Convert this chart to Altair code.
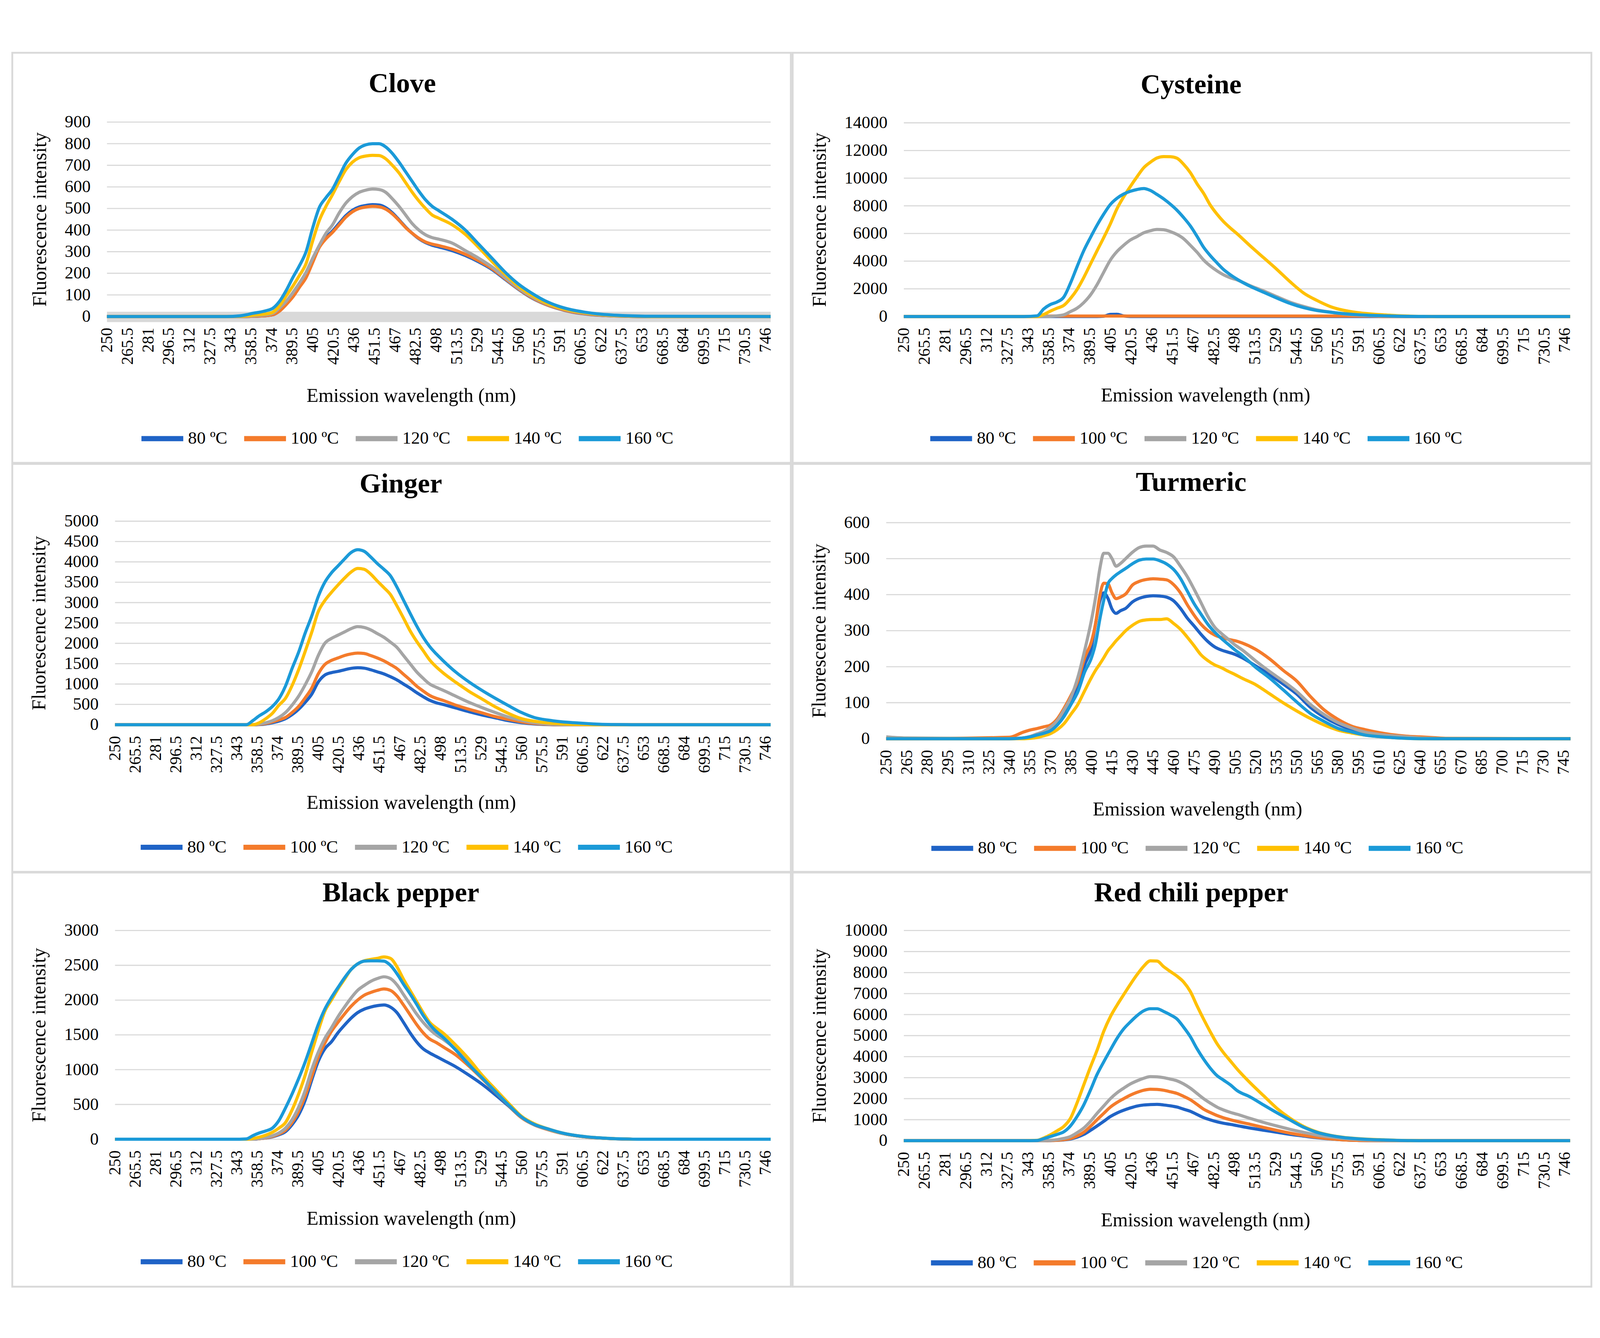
import altair as alt
import pandas as pd

FONT = "Liberation Serif"
SERIES = ["80 ºC", "100 ºC", "120 ºC", "140 ºC", "160 ºC"]
COLORS = ["#1f63c6", "#f47b2b", "#a5a5a5", "#ffc000", "#1b9ad8"]

# wavelength grid (nm) shared by most panels
WL = [250, 340, 350, 355, 360, 365, 370, 375, 380, 385, 390, 395, 400, 405, 410, 415, 420, 425, 430, 435,
      440, 445, 450, 455, 460, 465, 470, 475, 480, 485, 490, 495, 500, 510, 520, 530, 540, 550, 560, 570,
      580, 590, 600, 610, 620, 630, 640, 650, 660, 750]
# finer grid for turmeric
WL_T = [250, 265, 340, 350, 355, 360, 365, 370, 375, 380, 385, 390, 395, 400, 403, 406, 409, 412, 415, 418,
        421, 425, 430, 435, 440, 445, 450, 455, 460, 465, 470, 475, 480, 485, 490, 495, 500, 505, 510, 520,
        530, 540, 550, 560, 570, 580, 590, 600, 610, 620, 630, 640, 650, 660, 750]

# x tick labels
XT_A = [250, 265.5, 281, 296.5, 312, 327.5, 343, 358.5, 374, 389.5, 405, 420.5, 436, 451.5, 467, 482.5, 498,
        513.5, 529, 544.5, 560, 575.5, 591, 606.5, 622, 637.5, 653, 668.5, 684, 699.5, 715, 730.5, 746]
XT_B = [250, 265, 280, 295, 310, 325, 340, 355, 370, 385, 400, 415, 430, 445, 460, 475, 490, 505, 520, 535,
        550, 565, 580, 595, 610, 625, 640, 655, 670, 685, 700, 715, 730, 745]

# y tick labels
Y_CLOVE = [0, 100, 200, 300, 400, 500, 600, 700, 800, 900]
Y_CYS = [0, 2000, 4000, 6000, 8000, 10000, 12000, 14000]
Y_GIN = [0, 500, 1000, 1500, 2000, 2500, 3000, 3500, 4000, 4500, 5000]
Y_TUR = [0, 100, 200, 300, 400, 500, 600]
Y_BP = [0, 500, 1000, 1500, 2000, 2500, 3000]
Y_RC = [0, 1000, 2000, 3000, 4000, 5000, 6000, 7000, 8000, 9000, 10000]

# Clove
CLOVE_80 = [0, 0, 0, 0, 1, 2, 4, 8, 26, 57, 93, 138, 184, 255, 325, 366, 396, 432, 467, 492, 507, 514, 518, 516, 504,
            480, 448, 414, 385, 360, 342, 330, 322, 305, 282, 253, 218, 172, 126, 86, 57, 36, 21, 12, 6, 3, 1, 0, 0, 0]
CLOVE_100 = [0, 0, 0, 0, 1, 2, 4, 8, 25, 55, 90, 135, 180, 250, 320, 360, 390, 425, 460, 485, 500, 507, 510, 508, 497,
             475, 445, 412, 385, 362, 345, 335, 328, 312, 288, 258, 222, 175, 128, 88, 58, 37, 22, 13, 7, 3, 1, 0, 0, 0]
CLOVE_120 = [0, 0, 0, 1, 3, 5, 8, 15, 40, 70, 110, 155, 205, 270, 330, 385, 425, 480, 525, 555, 575, 585, 590, 588, 575,
             545, 510, 470, 430, 400, 378, 365, 358, 340, 305, 270, 230, 180, 132, 92, 62, 40, 25, 15, 9, 4, 2, 1, 0, 0]
CLOVE_140 = [0, 0, 1, 3, 6, 9, 12, 20, 50, 95, 140, 190, 245, 350, 445, 510, 565, 625, 680, 715, 735, 743, 746, 745, 730,
             700, 665, 620, 575, 535, 500, 470, 455, 425, 380, 320, 255, 195, 140, 98, 65, 42, 27, 17, 10, 5, 3, 1, 0, 0]
CLOVE_160 = [0, 0, 3, 8, 15, 20, 27, 38, 70, 120, 180, 235, 300, 410, 505, 550, 590, 650, 710, 750, 780, 795, 800, 800, 785,
             755, 715, 670, 625, 580, 540, 510, 490, 450, 400, 335, 270, 205, 150, 108, 73, 48, 31, 20, 12, 7, 4, 2, 1, 0]
CLOVE_BAND = [-26, 22]

# Cysteine
CYS_80 = [0, 0, 0, 0, 0, 0, 0, 0, 0, 0, 0, 0, 20, 150, 160, 40, 0, 0, 0, 0, 0, 0, 0, 0, 0,
          0, 0, 0, 0, 0, 0, 0, 0, 0, 0, 0, 0, 0, 0, 0, 0, 0, 0, 0, 0, 0, 0, 0, 0, 0]
CYS_100 = [0, 0, 0, 30, 30, 30, 30, 30, 30, 30, 30, 30, 30, 30, 30, 30, 30, 30, 30, 30, 30, 30, 30, 30, 30,
           30, 30, 30, 30, 30, 30, 30, 30, 30, 30, 30, 30, 30, 30, 30, 30, 30, 30, 0, 0, 0, 0, 0, 0, 0]
CYS_120 = [0, 0, 0, 0, 10, 50, 120, 350, 600, 1000, 1550, 2300, 3200, 4080, 4700, 5150, 5530, 5780, 6050, 6200,
           6290, 6270, 6140, 5930, 5620, 5150, 4650, 4080, 3650, 3300, 3010, 2800, 2650, 2220, 1850, 1430, 1030, 730,
           480, 320, 190, 110, 60, 30, 12, 4, 0, 0, 0, 0]
CYS_140 = [0, 0, 0, 150, 390, 600, 800, 1300, 1950, 2810, 3780, 4750, 5700, 6700, 7800, 8650, 9400, 10100, 10750,
           11150, 11460, 11560, 11550, 11440, 11000, 10400, 9600, 8900, 8050, 7400, 6850, 6400, 5990, 5100, 4250,
           3400, 2500, 1700, 1160, 720, 450, 290, 190, 120, 60, 28, 8, 0, 0, 0]
CYS_160 = [0, 0, 50, 550, 870, 1050, 1400, 2400, 3600, 4750, 5700, 6600, 7400, 8100, 8550, 8850, 9050, 9180, 9250,
           9110, 8820, 8500, 8120, 7680, 7150, 6550, 5800, 5000, 4400, 3880, 3390, 3020, 2700, 2180, 1750, 1330, 940,
           640, 430, 310, 210, 135, 85, 50, 24, 10, 4, 0, 0, 0]

# Ginger
GIN_80 = [0, 0, 0, 0, 5, 20, 50, 90, 150, 250, 380, 550, 750, 1050, 1220, 1280, 1310, 1350, 1385, 1400, 1390, 1350,
          1300, 1250, 1180, 1100, 1000, 900, 790, 690, 600, 540, 500, 410, 320, 240, 170, 100, 50, 20, 5, 0, 0, 0, 0,
          0, 0, 0, 0, 0]
GIN_100 = [0, 0, 0, 0, 10, 30, 70, 120, 180, 300, 450, 660, 900, 1250, 1480, 1580, 1640, 1700, 1740, 1760, 1750,
           1700, 1640, 1570, 1480, 1380, 1240, 1100, 950, 830, 720, 650, 600, 480, 380, 290, 200, 130, 70, 30, 10, 0,
           0, 0, 0, 0, 0, 0, 0, 0]
GIN_120 = [0, 0, 0, 0, 20, 50, 100, 180, 300, 480, 700, 980, 1300, 1700, 2000, 2120, 2200, 2280, 2360, 2410, 2390,
           2330, 2240, 2150, 2030, 1900, 1700, 1500, 1300, 1140, 1000, 920, 850, 700, 550, 420, 300, 190, 110, 50, 20,
           5, 0, 0, 0, 0, 0, 0, 0, 0]
GIN_140 = [0, 0, 0, 0, 50, 150, 280, 480, 650, 960, 1350, 1800, 2270, 2780, 3050, 3250, 3430, 3600, 3750, 3840, 3820,
           3700, 3530, 3370, 3200, 2920, 2620, 2310, 2050, 1820, 1590, 1420, 1280, 1040, 820, 630, 440, 280, 150, 85,
           45, 22, 10, 4, 0, 0, 0, 0, 0, 0]
GIN_160 = [0, 0, 0, 100, 220, 320, 450, 640, 950, 1380, 1780, 2250, 2670, 3150, 3500, 3730, 3900, 4070, 4230, 4300,
           4260, 4120, 3960, 3820, 3660, 3380, 3060, 2740, 2430, 2150, 1920, 1740, 1580, 1290, 1050, 840, 650, 470,
           300, 175, 115, 75, 50, 30, 12, 5, 2, 0, 0, 0]

# Turmeric (on WL_T)
TUR_80 = [0, 0, 0, 2, 5, 10, 15, 22, 40, 72, 110, 150, 205, 255, 320, 380, 405, 390, 360, 348, 355, 362, 380, 390,
          395, 397, 396, 393, 383, 362, 335, 313, 290, 270, 255, 246, 240, 234, 225, 202, 178, 152, 124, 87, 60, 40,
          26, 17, 10, 6, 3, 1, 0, 0, 0]
TUR_100 = [0, 0, 4, 18, 24, 28, 33, 38, 55, 85, 120, 160, 225, 270, 320, 395, 432, 430, 405, 389, 393, 402, 427, 437,
           442, 444, 443, 441, 428, 405, 372, 343, 318, 300, 288, 281, 276, 272, 266, 248, 222, 190, 160, 117, 80, 54,
           35, 25, 17, 11, 7, 5, 3, 1, 0]
TUR_120 = [5, 2, 0, 2, 6, 13, 20, 32, 50, 80, 115, 170, 245, 330, 393, 470, 515, 515, 500, 479, 486, 500, 518, 531,
           535, 535, 524, 517, 505, 479, 450, 415, 378, 340, 310, 292, 276, 260, 247, 216, 187, 160, 131, 95, 67, 45,
           30, 18, 12, 8, 5, 2, 1, 0, 0]
TUR_140 = [0, 0, 0, 0, 1, 3, 8, 14, 25, 42, 68, 95, 133, 170, 190, 207, 225, 244, 258, 272, 284, 300, 315, 326, 330,
           331, 331, 333, 320, 304, 282, 258, 233, 217, 205, 197, 187, 178, 168, 150, 125, 100, 77, 56, 38, 24, 16,
           10, 6, 3, 1, 0, 0, 0, 0]
TUR_160 = [0, 0, 0, 2, 5, 10, 15, 22, 38, 62, 95, 130, 185, 225, 265, 330, 385, 430, 445, 455, 463, 473, 486, 496,
           499, 499, 494, 485, 470, 445, 410, 375, 346, 318, 296, 278, 262, 246, 232, 198, 169, 136, 102, 70, 48, 29,
           19, 10, 6, 3, 1, 0, 0, 0, 0]

# Black pepper
BP_80 = [0, 0, 0, 0, 8, 18, 35, 65, 110, 210, 350, 560, 850, 1120, 1300, 1400, 1530, 1640, 1740, 1820, 1870, 1900,
         1920, 1930, 1900, 1820, 1680, 1530, 1400, 1300, 1240, 1190, 1140, 1040, 920, 790, 640, 480, 310, 205, 140,
         88, 53, 30, 17, 8, 3, 0, 0, 0]
BP_100 = [0, 0, 0, 0, 8, 20, 40, 75, 130, 240, 400, 620, 900, 1180, 1380, 1550, 1680, 1800, 1910, 2000, 2070, 2110,
          2140, 2160, 2140, 2060, 1930, 1790, 1650, 1530, 1440, 1390, 1330, 1210, 1050, 870, 680, 490, 310, 205, 140,
          88, 53, 30, 17, 8, 3, 0, 0, 0]
BP_120 = [0, 0, 0, 0, 10, 25, 50, 90, 160, 280, 460, 700, 1000, 1250, 1450, 1600, 1760, 1900, 2030, 2140, 2210, 2270,
          2310, 2335, 2310, 2220, 2080, 1940, 1800, 1680, 1580, 1500, 1440, 1290, 1100, 900, 700, 500, 320, 210, 145,
          90, 55, 32, 18, 8, 3, 0, 0, 0]
BP_140 = [0, 0, 0, 10, 30, 60, 100, 160, 240, 420, 650, 920, 1250, 1560, 1840, 2000, 2160, 2300, 2440, 2520, 2565,
          2585, 2600, 2620, 2600, 2480, 2300, 2140, 1980, 1820, 1680, 1600, 1530, 1350, 1150, 920, 720, 520, 330, 220,
          150, 95, 58, 35, 20, 9, 4, 0, 0, 0]
BP_160 = [0, 0, 5, 50, 90, 120, 160, 270, 450, 650, 870, 1110, 1380, 1650, 1870, 2036, 2180, 2320, 2440, 2520, 2560,
          2565, 2565, 2560, 2500, 2380, 2229, 2090, 1940, 1780, 1650, 1550, 1470, 1280, 1070, 880, 686, 495, 320, 210,
          150, 95, 58, 35, 20, 9, 4, 0, 0, 0]

# Red chili pepper
RC_80 = [0, 0, 0, 0, 8, 20, 40, 80, 170, 300, 490, 700, 920, 1150, 1320, 1450, 1560, 1650, 1700, 1720, 1730, 1700,
         1660, 1600, 1500, 1400, 1250, 1100, 990, 900, 830, 780, 720, 600, 500, 400, 300, 220, 140, 85, 40, 16, 6, 1,
         0, 0, 0, 0, 0, 0]
RC_100 = [0, 0, 0, 0, 8, 20, 50, 100, 220, 400, 680, 1000, 1300, 1600, 1820, 2000, 2170, 2300, 2400, 2450, 2440,
          2400, 2330, 2250, 2110, 1950, 1730, 1500, 1340, 1200, 1090, 1000, 920, 780, 630, 490, 360, 250, 160, 90, 40,
          16, 6, 1, 0, 0, 0, 0, 0, 0]
RC_120 = [0, 0, 0, 0, 20, 50, 110, 200, 380, 600, 920, 1300, 1650, 2000, 2280, 2500, 2700, 2850, 2970, 3050, 3040,
          3000, 2930, 2850, 2700, 2500, 2250, 2000, 1790, 1600, 1460, 1350, 1260, 1060, 870, 700, 540, 400, 270, 180,
          110, 60, 28, 10, 3, 0, 0, 0, 0, 0]
RC_140 = [0, 0, 20, 130, 280, 470, 677, 1060, 1800, 2650, 3500, 4300, 5200, 5900, 6450, 6950, 7440, 7900, 8300, 8560,
          8550, 8280, 8050, 7830, 7550, 7100, 6420, 5780, 5180, 4620, 4180, 3800, 3420, 2750, 2140, 1540, 1060, 680,
          420, 260, 160, 105, 68, 42, 22, 8, 3, 0, 0, 0]
RC_160 = [0, 0, 10, 100, 200, 300, 420, 700, 1150, 1700, 2400, 3150, 3750, 4320, 4870, 5320, 5650, 5950, 6180, 6280,
          6280, 6150, 5990, 5790, 5400, 4950, 4380, 3880, 3450, 3100, 2880, 2660, 2390, 2080, 1700, 1330, 980, 640,
          400, 250, 150, 95, 60, 38, 18, 7, 2, 0, 0, 0]

TITLES = ["Clove", "Cysteine", "Ginger", "Turmeric", "Black pepper", "Red chili pepper"]
X_TITLE = "Emission wavelength (nm)"
Y_TITLE = "Fluorescence intensity"

# ---------------- layout (pixels inside the single drawing area) ----------------
TOTAL_W, TOTAL_H = 4344, 3410
LAYOUT = {
    "Clove": dict(xr=[283, 2092], yr=[744, 214], box=[25, 2147, 25, 1143], title=[1088, 109], xt=[1112, 216], leg=[370, 1013]),
    "Cysteine": dict(xr=[2455, 4271], yr=[744, 216], box=[2152, 4329, 25, 1143], title=[3238, 113], xt=[3277, 215], leg=[2520, 1013]),
    "Ginger": dict(xr=[305, 2092], yr=[1857, 1302], box=[25, 2147, 1146, 2258], title=[1084, 1201], xt=[1112, 213], leg=[368, 2127]),
    "Turmeric": dict(xr=[2407, 4272], yr=[1895, 1306], box=[2152, 4329, 1146, 2258], title=[3238, 1197], xt=[3255, 193], leg=[2523, 2130]),
    "Black pepper": dict(xr=[305, 2092], yr=[2987, 2418], box=[25, 2147, 2260, 3389], title=[1084, 2316], xt=[1112, 217], leg=[368, 3257]),
    "Red chili pepper": dict(xr=[2455, 4271], yr=[2991, 2418], box=[2152, 4329, 2260, 3389], title=[3238, 2316], xt=[3277, 217], leg=[2522, 3260]),
}


def panel(name, wl, ys, yvals, xvals, band=None):
    lay = LAYOUT[name]
    rows = []
    for s, vals in zip(SERIES, ys):
        for x, y in zip(wl, vals):
            rows.append({"wl": x, "v": y, "s": s})
    df = pd.DataFrame(rows)

    xscale = alt.Scale(domain=[250, 750], range=lay["xr"], nice=False, zero=False)
    yscale = alt.Scale(domain=[yvals[0], yvals[-1]], range=lay["yr"], nice=False, zero=False)
    xaxis = alt.Axis(orient="bottom", offset=lay["yr"][0] - TOTAL_H, values=xvals,
                     labelExpr="'' + datum.value", labelAngle=270, labelFont=FONT, labelFontSize=45,
                     labelColor="#000000", labelPadding=30, ticks=False, domain=False, grid=False,
                     labelOverlap=False, labelFlush=False, labelBound=False,
                     title=X_TITLE, titleFont=FONT, titleFontSize=53, titleFontWeight="normal",
                     titleColor="#000000", titleX=lay["xt"][0], titleY=lay["xt"][1],
                     titleBaseline="middle", titleAlign="center")
    yaxis = alt.Axis(orient="left", offset=-lay["xr"][0], values=yvals, format="d", labelFont=FONT,
                     labelFontSize=47, labelColor="#000000", labelPadding=45, domain=False, ticks=False,
                     grid=False, title=Y_TITLE, titleFont=FONT, titleFontSize=53, titleFontWeight="normal",
                     titleColor="#000000", titlePadding=40)
    legend = alt.Legend(orient="none", legendX=lay["leg"][0], legendY=lay["leg"][1],
                        direction="horizontal", columns=5, symbolType="stroke", symbolStrokeWidth=14,
                        symbolSize=12996, labelFont=FONT, labelFontSize=48, labelColor="#000000",
                        columnPadding=18, labelOffset=6)
    color = alt.Color("s:N", scale=alt.Scale(domain=SERIES, range=COLORS), legend=legend, title=None)

    bx = lay["box"]
    frame = alt.Chart(alt.Data(values=[{"k": 1}])).mark_rect(
        fill="#ffffff", fillOpacity=0, stroke="#d9d9d9", strokeWidth=5
    ).encode(x=alt.value(bx[0]), x2=alt.value(bx[1]), y=alt.value(bx[2]), y2=alt.value(bx[3]))

    gdf = pd.DataFrame({"wl": [250] * len(yvals), "wl2": [750] * len(yvals), "v": yvals})
    grid = alt.Chart(gdf).mark_rule(color="#d9d9d9", strokeWidth=3).encode(
        x=alt.X("wl:Q", scale=xscale, axis=xaxis), x2="wl2:Q",
        y=alt.Y("v:Q", scale=yscale, axis=yaxis),
    )

    layers = [frame, grid]
    if band is not None:
        bdf = pd.DataFrame({"wl": [250], "wl2": [750], "v": [band[0]], "v2": [band[1]]})
        layers.append(
            alt.Chart(bdf).mark_rect(color="#d9d9d9").encode(
                x=alt.X("wl:Q", scale=xscale, axis=xaxis), x2="wl2:Q",
                y=alt.Y("v:Q", scale=yscale, axis=yaxis), y2="v2:Q"
            )
        )
    for s in SERIES:
        layers.append(
            alt.Chart(df).transform_filter(alt.datum.s == s).mark_line(
                strokeWidth=8.5, interpolate="monotone"
            ).encode(
                x=alt.X("wl:Q", scale=xscale, axis=xaxis),
                y=alt.Y("v:Q", scale=yscale, axis=yaxis),
                color=color,
            )
        )
    title = alt.Chart(alt.Data(values=[{"t": name}])).mark_text(
        font=FONT, fontSize=75, fontWeight="bold", color="#000000", baseline="middle", align="center"
    ).encode(text="t:N", x=alt.value(lay["title"][0]), y=alt.value(lay["title"][1]))
    layers.append(title)
    return alt.layer(*layers)


clove = panel(TITLES[0], WL, [CLOVE_80, CLOVE_100, CLOVE_120, CLOVE_140, CLOVE_160], Y_CLOVE, XT_A, band=CLOVE_BAND)
cys = panel(TITLES[1], WL, [CYS_80, CYS_100, CYS_120, CYS_140, CYS_160], Y_CYS, XT_A)
gin = panel(TITLES[2], WL, [GIN_80, GIN_100, GIN_120, GIN_140, GIN_160], Y_GIN, XT_A)
tur = panel(TITLES[3], WL_T, [TUR_80, TUR_100, TUR_120, TUR_140, TUR_160], Y_TUR, XT_B)
bp = panel(TITLES[4], WL, [BP_80, BP_100, BP_120, BP_140, BP_160], Y_BP, XT_A)
rc = panel(TITLES[5], WL, [RC_80, RC_100, RC_120, RC_140, RC_160], Y_RC, XT_A)

chart = alt.layer(clove, cys, gin, tur, bp, rc).resolve_scale(
    x="independent", y="independent", color="independent"
).resolve_axis(x="independent", y="independent").resolve_legend(color="independent").properties(
    width=TOTAL_W, height=TOTAL_H, autosize=alt.AutoSizeParams(type="none"), padding=0,
    background="#ffffff"
).configure_view(strokeWidth=0)

chart.save("out.html", embed_options={"renderer": "svg", "actions": False})
